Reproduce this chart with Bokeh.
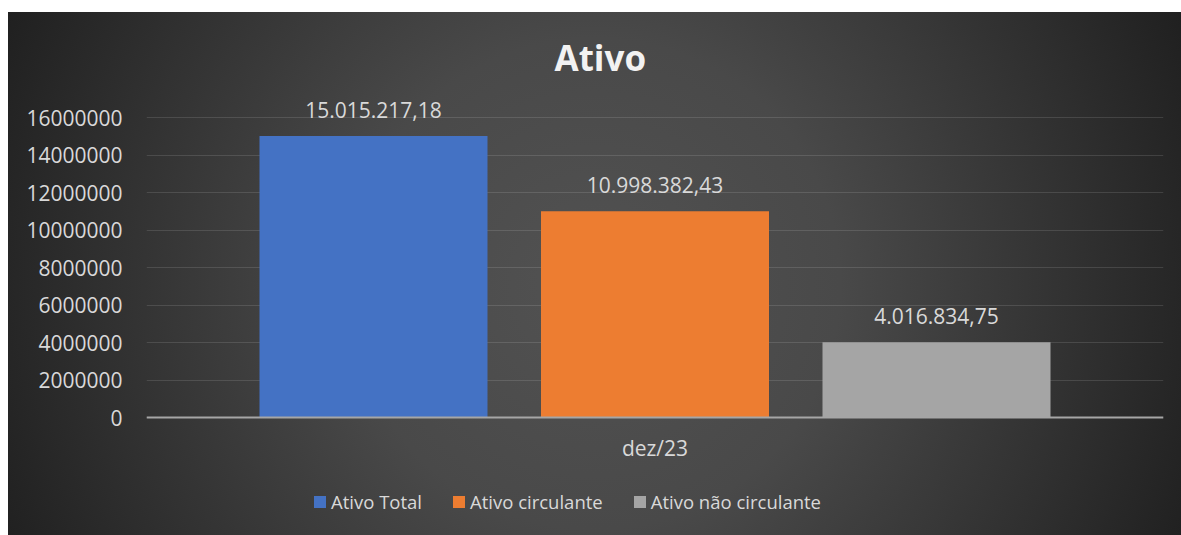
from bokeh.plotting import figure
from bokeh.models import (ColumnDataSource, Range1d, FixedTicker, BasicTickFormatter,
                          LabelSet, Legend, LegendItem)
from bokeh.core.properties import value
from bokeh.embed import file_html
from bokeh.resources import INLINE

# ---- data ----
title_text = "Ativo"
period = "dez/23"
series = ["Ativo Total", "Ativo circulante", "Ativo não circulante"]
values = [15015217.18, 10998382.43, 4016834.75]
colors = ["#4472C4", "#ED7D31", "#A5A5A5"]
y_ticks = [0, 2000000, 4000000, 6000000, 8000000, 10000000, 12000000, 14000000, 16000000]


def br(v):
    s = f"{v:,.2f}"
    return s.replace(",", "X").replace(".", ",").replace("X", ".")


src = ColumnDataSource(dict(
    x=list(range(len(series))),
    top=values,
    color=colors,
    label=[br(v) for v in values],
    series=series,
))

FONT = "Open Sans"
TXT = "#d9d9d9"

# frame spans from just under the title to the bottom edge; zero line is placed
# by a fixed-location x axis so the legend can live inside the frame
p = figure(width=1173, height=523, output_backend="svg", toolbar_location=None,
           x_range=Range1d(-0.8064, 2.8064), y_range=Range1d(-6.2933e6, 17.0667e6),
           min_border_left=138, min_border_right=18, min_border_top=85,
           min_border_bottom=0)
p.margin = (12, 0, 0, 8)

p.background_fill_color = None
p.border_fill_color = None
p.outline_line_color = None
p.styles = {"background": "radial-gradient(circle farthest-corner at 50% 52%, #525252 0%, #494949 38%, #202020 100%)"}

r = p.vbar(x="x", top="top", bottom=0, width=0.81, color="color", line_color=None, source=src)

p.add_layout(LabelSet(x="x", y="top", text="label", source=src, text_align="center",
                      text_baseline="alphabetic", y_offset=18, text_font=value(FONT),
                      text_font_size="21px", text_color=TXT))

# title
p.title.text = title_text
p.title.align = "left"
p.title.offset = 408
p.title.standoff = 33
p.title.text_font = FONT
p.title.text_font_size = "35px"
p.title.text_font_style = "bold"
p.title.text_color = "#f2f2f2"

# y axis
ya = p.yaxis[0]
ya.ticker = FixedTicker(ticks=y_ticks)
ya.formatter = BasicTickFormatter(use_scientific=False)
ya.axis_line_color = None
ya.major_tick_line_color = None
ya.minor_tick_line_color = None
ya.major_tick_out = 0
ya.major_tick_in = 0
ya.major_label_standoff = 24
ya.major_label_text_font = FONT
ya.major_label_text_font_size = "21px"
ya.major_label_text_color = TXT

# x axis (drawn at y = 0)
xa = p.xaxis[0]
xa.fixed_location = 0
xa.ticker = FixedTicker(ticks=[1])
xa.major_label_overrides = {1: period}
xa.axis_line_color = "#a6a6a6"
xa.axis_line_width = 2
xa.major_tick_line_color = None
xa.minor_tick_line_color = None
xa.major_tick_out = 0
xa.major_tick_in = 0
xa.major_label_standoff = 16
xa.major_label_text_font = FONT
xa.major_label_text_font_size = "21px"
xa.major_label_text_color = TXT

p.xgrid.grid_line_color = None
p.ygrid.grid_line_color = "#ffffff"
p.ygrid.grid_line_alpha = 0.12

legend = Legend(items=[LegendItem(label=s, renderers=[r], index=i) for i, s in enumerate(series)],
                location=(166, 21), orientation="horizontal",
                background_fill_alpha=0, border_line_alpha=0,
                label_text_font=FONT, label_text_font_size="18.5px", label_text_color=TXT,
                glyph_width=15, glyph_height=15, spacing=29, label_standoff=4,
                padding=0, margin=0)
p.add_layout(legend)

open("out.html", "w").write(file_html(p, INLINE))
